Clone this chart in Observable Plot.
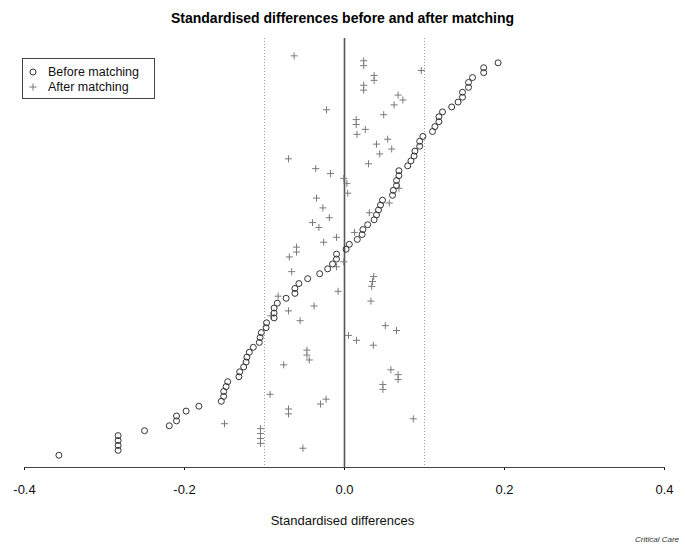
<!DOCTYPE html>
<html>
<head>
<meta charset="utf-8">
<script src="https://cdn.jsdelivr.net/npm/d3@7"></script>
<script src="https://cdn.jsdelivr.net/npm/@observablehq/plot@0.6"></script>
<style>
  html, body { margin: 0; padding: 0; background: #fff; }
  body { width: 685px; height: 547px; position: relative; overflow: hidden; font-family: "Liberation Sans", Arial, sans-serif; }
  #title { position: absolute; top: 10px; left: 0; width: 685px; text-align: center; font-weight: bold; font-size: 14px; color: #000; }
  #chart { position: absolute; top: 36px; left: 0; }
  #xlabel { position: absolute; top: 513px; left: 0; width: 685px; text-align: center; font-size: 13px; color: #111; }
  #caption { position: absolute; top: 535px; right: 6px; font-size: 8px; font-style: italic; color: #333; }
  #legend { position: absolute; left: 22px; top: 58px; width: 131px; height: 39px; border: 1px solid #444; font-size: 12.5px; color: #111; }
  #legend .row { position: absolute; left: 0; height: 16px; line-height: 16px; }
  #legend svg { position: absolute; left: 4px; top: 2px; }
  #legend span { position: absolute; left: 25px; white-space: nowrap; }
</style>
</head>
<body>
<div id="title">Standardised differences before and after matching</div>
<div id="chart"></div>
<div id="xlabel">Standardised differences</div>
<div id="caption">Critical Care</div>
<div id="legend">
  <div class="row" style="top:5px"><svg width="14" height="12"><circle cx="6" cy="6" r="3" fill="none" stroke="#333" stroke-width="1"></circle></svg><span>Before matching</span></div>
  <div class="row" style="top:20px"><svg width="14" height="12"><path d="M6,2.5V9.5M2.5,6H9.5" stroke="#777" stroke-width="1"></path></svg><span>After matching</span></div>
</div>
<script>
// Standardised differences, one entry per covariate, ordered by the "before" value (largest at top)
const beforeMatching = [
  0.192, 0.174, 0.174, 0.160, 0.155, 0.155, 0.1475, 0.1475, 0.142, 0.134,
  0.1225, 0.118, 0.118, 0.113, 0.110, 0.098, 0.094, 0.094, 0.088, 0.087,
  0.083, 0.079, 0.068, 0.068, 0.065, 0.065, 0.061, 0.060, 0.0475, 0.045,
  0.0425, 0.040, 0.037, 0.029, 0.023, 0.022, 0.016, 0.006, 0.002, -0.010,
  -0.010, -0.015, -0.021, -0.031, -0.046, -0.057, -0.062, -0.062, -0.073, -0.084,
  -0.088, -0.088, -0.088, -0.0975, -0.098, -0.104, -0.1055, -0.1065, -0.114, -0.119,
  -0.122, -0.123, -0.126, -0.131, -0.132, -0.146, -0.148, -0.151, -0.151, -0.154,
  -0.182, -0.198, -0.210, -0.210, -0.219, -0.250, -0.283, -0.283, -0.283, -0.283,
  -0.357
];
const afterMatching = [
  -0.063, 0.024, 0.024, 0.096, 0.037, 0.037, 0.024, 0.024, 0.067, 0.073,
  0.062, -0.0225, 0.049, 0.0146, 0.0146, 0.026, 0.0156, 0.054, 0.040, 0.059,
  0.044, -0.070, 0.030, -0.036, -0.0175, -0.001, 0.003, 0.068, 0.004, -0.035,
  0.056, -0.027, 0.031, -0.019, -0.040, -0.032, 0.0125, -0.010, -0.026, -0.060,
  -0.060, -0.069, -0.001, -0.010, -0.066, 0.0365, 0.035, 0.034, -0.008, -0.083,
  0.033, -0.038, -0.070, -0.092, -0.0555, 0.051, 0.065, 0.005, 0.015, 0.036,
  -0.047, -0.047, -0.044, -0.076, 0.058, 0.067, 0.067, 0.048, 0.048, -0.093,
  -0.023, -0.030, -0.070, -0.070, 0.086, -0.150, -0.105, -0.105, -0.105, -0.105,
  -0.052
];
const xTicks = [-0.4, -0.2, 0.0, 0.2, 0.4];
const referenceLines = [-0.1, 0.1];
const zeroLine = [0];

const rows = beforeMatching.map((b, i) => ({rank: i, before: b, after: afterMatching[i]}));

const chart = Plot.plot({
  width: 685,
  height: 470,
  marginLeft: 24,
  marginRight: 21,
  marginTop: 2,
  marginBottom: 39,
  style: {fontFamily: "'Liberation Sans', Arial, sans-serif", fontSize: "13px", color: "#111", background: "#fff"},
  x: {domain: [-0.4, 0.4], ticks: xTicks, tickFormat: d => d.toFixed(1), tickSize: 3, tickPadding: 14, label: null},
  y: {domain: [-4.96, 82.5], reverse: true, axis: null},
  marks: [
    Plot.ruleX(referenceLines, {stroke: "#9a9a9a", strokeWidth: 1, strokeDasharray: "1,2"}),
    Plot.ruleX(zeroLine, {stroke: "#555", strokeWidth: 1.6}),
    Plot.frame({anchor: "bottom", stroke: "#444", strokeWidth: 1}),
    Plot.dot(rows, {x: "after", y: "rank", symbol: "plus", r: 2.4, stroke: "#7a7a7a", strokeWidth: 1, dy: -7}),
    Plot.dot(rows, {x: "before", y: "rank", symbol: "circle", r: 3, fill: "none", stroke: "#333", strokeWidth: 1})
  ]
});
document.getElementById("chart").appendChild(chart);
</script>
</body>
</html>
